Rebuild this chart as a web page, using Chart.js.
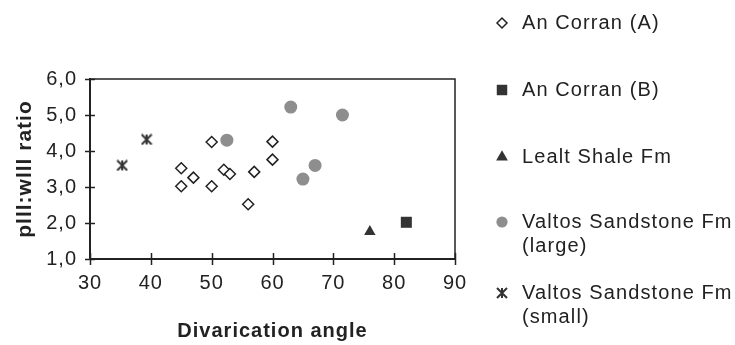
<!DOCTYPE html>
<html>
<head>
<meta charset="utf-8">
<script src="https://cdn.jsdelivr.net/npm/chart.js@4.4.1/dist/chart.umd.min.js"></script>
<style>
  html, body { margin: 0; padding: 0; background: #fff; }
  #wrap { width: 735px; height: 345px; }
</style>
</head>
<body>
<div id="wrap"><canvas id="chart" width="735" height="345"></canvas></div>
<script>
// datos: [angulo de divaricacion, ratio pIII:wIII]
const anCorranA = [[45, 3.52], [45, 3.02], [47, 3.26], [50, 4.25], [50, 3.02], [52, 3.48],
                   [53, 3.36], [56, 2.52], [57, 3.42], [60, 4.26], [60, 3.76]];
const anCorranB = [[82, 2.02]];
const lealtShale = [[76, 1.76]];
const valtosLarge = [[52.5, 4.3], [63, 5.22], [71.5, 5.0], [65, 3.22], [67, 3.6]];
const valtosSmall = [[35.3, 3.6], [39.3, 4.32]];

const seriesLabels = [
    ['An Corran (A)'],
    ['An Corran (B)'],
    ['Lealt Shale Fm'],
    ['Valtos Sandstone Fm', '(large)'],
    ['Valtos Sandstone Fm', '(small)']
];
const xTicks = [30, 40, 50, 60, 70, 80, 90];
const yTicks = [1, 2, 3, 4, 5, 6];

const FONT = "'Liberation Sans', Arial, sans-serif";
const INK = '#222';

// marcador tipo asterisco (X con linea vertical)
function makeStar(size) {
    const c = document.createElement('canvas');
    c.width = size + 2;
    c.height = size + 2;
    const g = c.getContext('2d');
    g.strokeStyle = '#333';
    g.lineWidth = 2;
    g.beginPath();
    g.moveTo(1, 1); g.lineTo(size + 1, size + 1);
    g.moveTo(size + 1, 1); g.lineTo(1, size + 1);
    g.moveTo(size / 2 + 1, 1); g.lineTo(size / 2 + 1, size + 1);
    g.stroke();
    return c;
}
const starPlot = makeStar(10);
const starLegend = makeStar(10);

const toPoints = arr => arr.map(p => ({ x: p[0], y: p[1] }));

const datasets = [
    { data: toPoints(anCorranA), pointStyle: 'rectRot', radius: 5.5, backgroundColor: '#fff', borderColor: INK, borderWidth: 1.5 },
    { data: toPoints(anCorranB), pointStyle: 'rect', radius: 7.8, backgroundColor: '#333', borderColor: '#333', borderWidth: 0 },
    { data: toPoints(lealtShale), pointStyle: 'triangle', radius: 6.6, backgroundColor: '#333', borderColor: '#333', borderWidth: 0 },
    { data: toPoints(valtosLarge), pointStyle: 'circle', radius: 6.5, backgroundColor: '#8e8e8e', borderColor: '#8e8e8e', borderWidth: 0 },
    { data: toPoints(valtosSmall), pointStyle: starPlot, radius: 6, backgroundColor: '#333', borderColor: '#333', borderWidth: 0 }
];
datasets.forEach((d, i) => {
    d.label = seriesLabels[i].join(' ');
    d.pointHoverRadius = d.radius;
});

const legendMarks = [
    { style: 'rectRot', r: 5, fill: '#fff', stroke: INK, w: 1.5 },
    { style: 'rect', r: 7.4, fill: '#333', stroke: '#333', w: 0 },
    { style: 'triangle', r: 6.8, fill: '#333', stroke: '#333', w: 0 },
    { style: 'circle', r: 5.6, fill: '#8e8e8e', stroke: '#8e8e8e', w: 0 },
    { style: starLegend, r: 5, fill: '#333', stroke: '#333', w: 0 }
];
const legendRowY = [23, 90, 157, 222, 293];

// el texto original sale algo mas espaciado
const espaciado = {
    id: 'espaciado',
    beforeLayout(chart) { chart.ctx.letterSpacing = '1px'; },
    beforeDraw(chart) { chart.ctx.letterSpacing = '1px'; }
};

// caja del area, marcas cruzadas y leyenda a la derecha
const marcoPlugin = {
    id: 'marco',
    afterDraw(chart) {
        const ctx = chart.ctx;
        const a = chart.chartArea;
        const xs = chart.scales.x;
        const ys = chart.scales.y;
        ctx.save();
        ctx.strokeStyle = INK;
        ctx.lineWidth = 1.5;
        ctx.strokeRect(a.left, a.top, a.right - a.left, a.bottom - a.top);
        ctx.lineWidth = 2;
        ctx.beginPath();
        ctx.moveTo(a.left, a.top - 1); ctx.lineTo(a.left, a.bottom + 1);
        ctx.moveTo(a.left - 1, a.bottom); ctx.lineTo(a.right + 1, a.bottom);
        ctx.stroke();
        ctx.lineWidth = 1.5;
        ctx.beginPath();
        yTicks.forEach(v => {
            const py = Math.round(ys.getPixelForValue(v)) + 0.5;
            ctx.moveTo(a.left - 5, py); ctx.lineTo(a.left + 5, py);
        });
        xTicks.forEach(v => {
            const px = Math.round(xs.getPixelForValue(v)) + 0.5;
            ctx.moveTo(px, a.bottom - 6); ctx.lineTo(px, a.bottom + 6);
        });
        ctx.stroke();

        ctx.font = '20px ' + FONT;
        ctx.letterSpacing = '1.1px';
        ctx.textBaseline = 'middle';
        ctx.textAlign = 'left';
        seriesLabels.forEach((lines, i) => {
            const m = legendMarks[i];
            const y = legendRowY[i];
            ctx.fillStyle = m.fill;
            ctx.strokeStyle = m.stroke;
            ctx.lineWidth = m.w;
            Chart.helpers.drawPoint(ctx, { pointStyle: m.style, radius: m.r, borderWidth: m.w, rotation: 0 }, 502, y);
            ctx.fillStyle = INK;
            lines.forEach((t, j) => ctx.fillText(t, 522, y + j * 24));
        });
        ctx.restore();
    }
};

new Chart(document.getElementById('chart'), {
    type: 'scatter',
    data: { datasets: datasets },
    options: {
        responsive: false,
        animation: false,
        events: [],
        layout: { padding: { left: 0, top: 79, right: 280, bottom: 0 } },
        plugins: {
            legend: { display: false },
            tooltip: { enabled: false }
        },
        scales: {
            x: {
                type: 'linear',
                min: 30,
                max: 90,
                afterBuildTicks: s => { s.ticks = xTicks.map(v => ({ value: v })); },
                afterFit: s => { s.height = 86; },
                grid: { display: false, drawTicks: false },
                border: { display: false },
                ticks: { color: INK, font: { family: FONT, size: 20 }, padding: 12, maxRotation: 0 },
                title: { display: true, text: 'Divarication angle', color: INK, font: { family: FONT, size: 20, weight: 'bold' }, padding: { top: 0, bottom: 2 } }
            },
            y: {
                type: 'linear',
                min: 1,
                max: 6,
                afterBuildTicks: s => { s.ticks = yTicks.map(v => ({ value: v })); },
                afterFit: s => { s.width = 90; },
                grid: { display: false, drawTicks: false },
                border: { display: false },
                ticks: { color: INK, font: { family: FONT, size: 20 }, padding: 13, callback: v => v.toFixed(1).replace('.', ',') },
                title: { display: true, text: 'plll:wlll ratio', color: INK, font: { family: FONT, size: 21, weight: 'bold' }, padding: { top: 13, bottom: 0 } }
            }
        }
    },
    plugins: [espaciado, marcoPlugin]
});
</script>
</body>
</html>
